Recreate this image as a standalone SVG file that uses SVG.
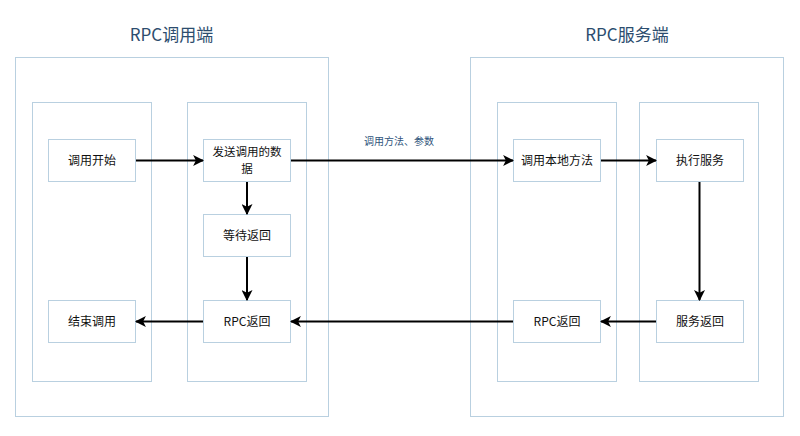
<svg xmlns="http://www.w3.org/2000/svg" width="800" height="436" viewBox="0 0 800 436">
<style>
.frame{fill:#ffffff;stroke:#b9d0e0;stroke-width:1}
.node rect{fill:#ffffff;stroke:#b9d0e0;stroke-width:1}
.node text{font-family:"Noto Sans CJK SC","Liberation Sans",sans-serif;font-size:12px;fill:#111111;text-anchor:middle}
.node text.two{font-size:11.5px}
.title{font-family:"Noto Sans CJK SC","Liberation Sans",sans-serif;font-size:17px;fill:#2c4d6e;text-anchor:middle}
.lbl{font-family:"Noto Sans CJK SC","Liberation Sans",sans-serif;font-size:10px;fill:#30557c;text-anchor:middle}
#connectors path{fill:none;stroke:#000000;stroke-width:2;marker-end:url(#ah)}
</style>
<defs>
<marker id="ah" viewBox="0 0 10 10" refX="9" refY="5" markerWidth="5.5" markerHeight="5.5" orient="auto" markerUnits="strokeWidth">
<path d="M0,0 L10,5 L0,10 L2.5,5 Z" fill="#000000"/>
</marker>
</defs>
<rect width="800" height="436" fill="#ffffff"/>
<g id="client-side">
<text class="title" x="171.5" y="41">RPC调用端</text>
<rect class="frame" x="15.5" y="57.5" width="313" height="359"/>
<rect class="frame" x="32.5" y="102.5" width="119" height="279"/>
<rect class="frame" x="187.5" y="102.5" width="119" height="279"/>
</g>
<g id="server-side">
<text class="title" x="627" y="41">RPC服务端</text>
<rect class="frame" x="470.5" y="57.5" width="313" height="359"/>
<rect class="frame" x="497.5" y="102.5" width="119" height="279"/>
<rect class="frame" x="639.5" y="102.5" width="119" height="279"/>
</g>
<g id="n-start" class="node"><rect x="48.5" y="139.5" width="87" height="42"/><text x="92" y="165">调用开始</text></g>
<g id="n-send" class="node"><rect x="203.5" y="139.5" width="87" height="42"/><text class="two" x="247" y="156">发送调用的数</text><text class="two" x="247" y="173">据</text></g>
<g id="n-wait" class="node"><rect x="203.5" y="214.5" width="87" height="42"/><text x="247" y="240">等待返回</text></g>
<g id="n-rpcret-client" class="node"><rect x="203.5" y="300.5" width="87" height="42"/><text x="247" y="326">RPC返回</text></g>
<g id="n-end" class="node"><rect x="48.5" y="300.5" width="87" height="42"/><text x="92" y="326">结束调用</text></g>
<g id="n-local" class="node"><rect x="513.5" y="139.5" width="87" height="42"/><text x="557" y="165">调用本地方法</text></g>
<g id="n-exec" class="node"><rect x="656.5" y="139.5" width="87" height="42"/><text x="700" y="165">执行服务</text></g>
<g id="n-svcret" class="node"><rect x="656.5" y="300.5" width="87" height="42"/><text x="700" y="326">服务返回</text></g>
<g id="n-rpcret-server" class="node"><rect x="513.5" y="300.5" width="87" height="42"/><text x="557" y="326">RPC返回</text></g>
<g id="connectors">
<path d="M136,160.5 L203,160.5"/>
<path d="M291,160.5 L513,160.5"/>
<path d="M601,160.5 L656,160.5"/>
<path d="M247,182 L247,214"/>
<path d="M247,257 L247,300"/>
<path d="M699.5,182 L699.5,300"/>
<path d="M656,321.5 L601,321.5"/>
<path d="M513,321.5 L291,321.5"/>
<path d="M203,321.5 L136,321.5"/>
<text class="lbl" x="399" y="145">调用方法、参数</text>
</g>
</svg>
